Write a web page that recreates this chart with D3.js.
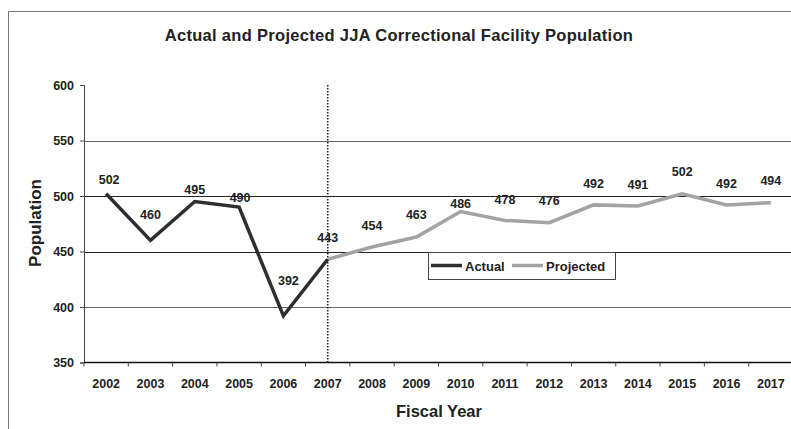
<!DOCTYPE html>
<html>
<head>
<meta charset="utf-8">
<script src="https://cdn.jsdelivr.net/npm/d3@7"></script>
<style>
  html, body { margin: 0; padding: 0; background: #fff; }
  svg { display: block; font-family: "Liberation Sans", Arial, sans-serif; }
</style>
</head>
<body>
<svg id="chart" width="791" height="429"></svg>
<script>
// Fiscal years on the category axis
const years = ["2002","2003","2004","2005","2006","2007","2008","2009",
               "2010","2011","2012","2013","2014","2015","2016","2017"];
// Actual population, FY2002–FY2007
const actualYears = ["2002","2003","2004","2005","2006","2007"];
const actualValues = [502, 460, 495, 490, 392, 443];
// Projected population, FY2007–FY2017
const projectedYears = ["2007","2008","2009","2010","2011","2012","2013","2014","2015","2016","2017"];
const projectedValues = [443, 454, 463, 486, 478, 476, 492, 491, 502, 492, 494];
// Value axis ticks
const yTicks = [350, 400, 450, 500, 550, 600];
const gridValues = [400, 450, 500, 550];

const svg = d3.select("#chart");

// frame around the chart
svg.append("path")
  .attr("d", "M8.5,429 L8.5,11.5 L791,11.5")
  .attr("fill", "none").attr("stroke", "#777").attr("stroke-width", 1);

const plot = { left: 84, right: 793, top: 85, bottom: 362.5 };

const x = d3.scaleBand().domain(years).range([plot.left, plot.right]);
const y = d3.scaleLinear().domain([350, 600]).range([plot.bottom, plot.top]);
const cx = d => x(d) + x.bandwidth() / 2;

// horizontal gridlines
svg.append("g").selectAll("line").data(gridValues).join("line")
  .attr("x1", plot.left).attr("x2", 791)
  .attr("y1", d => Math.round(y(d)) + 0.5).attr("y2", d => Math.round(y(d)) + 0.5)
  .attr("stroke", d => d === 500 || d === 450 ? "#222" : "#666")
  .attr("stroke-width", 1.2);

// value axis
const yAxis = svg.append("g")
  .attr("transform", `translate(${plot.left},0)`)
  .call(d3.axisLeft(y).tickValues(yTicks).tickSize(4).tickPadding(6));
yAxis.select(".domain").attr("stroke", "#444");
yAxis.selectAll(".tick line").attr("stroke", "#444");
yAxis.selectAll("text")
  .attr("font-size", 12.5).attr("font-weight", "bold").attr("fill", "#222")
  .attr("font-family", "Liberation Sans, Arial, sans-serif");

// category axis with boundary ticks
const xAxisG = svg.append("g").attr("transform", `translate(0,${plot.bottom})`);
xAxisG.append("line")
  .attr("x1", plot.left).attr("x2", 791).attr("y1", 0).attr("y2", 0)
  .attr("stroke", "#111").attr("stroke-width", 1.3);
xAxisG.selectAll("line.tk").data(years).join("line").attr("class", "tk")
  .attr("x1", d => x(d)).attr("x2", d => x(d))
  .attr("y1", 0).attr("y2", 4).attr("stroke", "#444");
xAxisG.selectAll("text").data(years).join("text")
  .attr("x", d => cx(d)).attr("y", 25)
  .attr("text-anchor", "middle")
  .attr("font-size", 12.5).attr("font-weight", "bold").attr("fill", "#222")
  .text(d => d);

// divider between actual and projected years
svg.append("line")
  .attr("x1", cx("2007")).attr("x2", cx("2007"))
  .attr("y1", plot.top).attr("y2", plot.bottom)
  .attr("stroke", "#222").attr("stroke-width", 1.6)
  .attr("stroke-dasharray", "1.5,1.5");

const line = d3.line().x(d => cx(d.year)).y(d => y(d.value));
const actual = actualYears.map((yr, i) => ({ year: yr, value: actualValues[i] }));
const projected = projectedYears.map((yr, i) => ({ year: yr, value: projectedValues[i] }));

svg.append("path").datum(projected)
  .attr("d", line).attr("fill", "none")
  .attr("stroke", "#a3a3a3").attr("stroke-width", 3.5)
  .attr("stroke-linejoin", "miter");
svg.append("path").datum(actual)
  .attr("d", line).attr("fill", "none")
  .attr("stroke", "#2e2e2e").attr("stroke-width", 3.5)
  .attr("stroke-linejoin", "miter");

// value labels (vertical offsets follow the label placement of each point)
const labelLift = {
  actual:    [14, 26, 12, 10, 35, 22],
  projected: [22, 23, 8, 21, 22, 21, 21, 22, 21, 22]
};
const labelShift = { actual: [3, 0, 0, 1, 5, 0] };

const labels = svg.append("g")
  .attr("font-size", 12.5).attr("font-weight", "bold").attr("fill", "#222")
  .attr("text-anchor", "middle");
labels.selectAll("text.a").data(actual).join("text").attr("class", "a")
  .attr("x", (d, i) => cx(d.year) + labelShift.actual[i])
  .attr("y", (d, i) => y(d.value) - labelLift.actual[i] + 4.5)
  .text(d => d.value);
labels.selectAll("text.p").data(projected.slice(1)).join("text").attr("class", "p")
  .attr("x", d => cx(d.year))
  .attr("y", (d, i) => y(d.value) - labelLift.projected[i] + 4.5)
  .text(d => d.value);

// legend
const lg = svg.append("g").attr("transform", "translate(428,252)");
lg.append("rect").attr("x", 0.5).attr("y", 0.5).attr("width", 187).attr("height", 27)
  .attr("fill", "#fff").attr("stroke", "#444").attr("stroke-width", 1);
lg.append("line").attr("x1", 3).attr("x2", 34).attr("y1", 13.5).attr("y2", 13.5)
  .attr("stroke", "#2e2e2e").attr("stroke-width", 3.5);
lg.append("text").attr("x", 37).attr("y", 18.5)
  .attr("font-size", 13).attr("font-weight", "bold").attr("fill", "#222").text("Actual");
lg.append("line").attr("x1", 84).attr("x2", 115).attr("y1", 13.5).attr("y2", 13.5)
  .attr("stroke", "#a3a3a3").attr("stroke-width", 3.5);
lg.append("text").attr("x", 118).attr("y", 18.5)
  .attr("font-size", 13).attr("font-weight", "bold").attr("fill", "#222").text("Projected");

// titles
svg.append("text").attr("x", 399).attr("y", 41).attr("text-anchor", "middle")
  .attr("font-size", 16.5).attr("font-weight", "bold").attr("fill", "#222")
  .attr("letter-spacing", 0.3)
  .text("Actual and Projected JJA Correctional Facility Population");
svg.append("text").attr("x", 439).attr("y", 417).attr("text-anchor", "middle")
  .attr("font-size", 16.5).attr("font-weight", "bold").attr("fill", "#222")
  .text("Fiscal Year");
svg.append("text")
  .attr("transform", "translate(41,223) rotate(-90)")
  .attr("text-anchor", "middle")
  .attr("font-size", 17).attr("font-weight", "bold").attr("fill", "#222")
  .text("Population");
</script>
</body>
</html>
